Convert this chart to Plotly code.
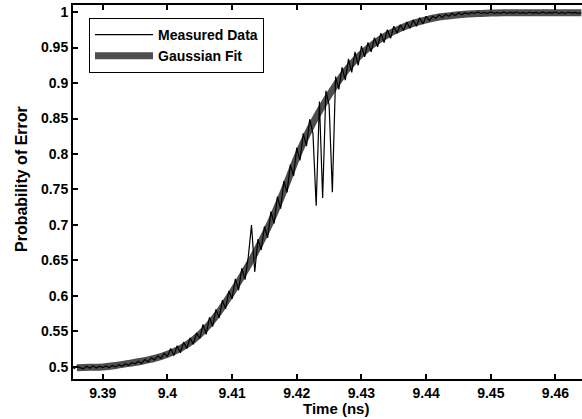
import numpy as np
import plotly.graph_objects as go

# Measured data: sampled every 0.5 ps starting at 9.3855 ns
t_start = 9.3855
t_step = 0.0005
measured = [
    .497, .501, .499, .4975, .501, .498, .5015, .4985, .501, .499,
    .5015, .499, .502, .500, .503, .501, .5045, .502, .506, .5045,
    .508, .505, .5105, .507, .513, .510, .5155, .512, .519, .515,
    .526, .516, .530, .520, .535, .526, .541, .532, .548, .540,
    .560, .546, .570, .557, .581, .569, .594, .582, .607, .596,
    .624, .608, .639, .623, .655, .700, .634, .680, .665, .698,
    .682, .719, .702, .740, .723, .762, .746, .785, .769, .809,
    .791, .829, .811, .849, .829, .727, .874, .738, .889, .869,
    .746, .909, .891, .922, .904, .934, .915, .944, .925, .952,
    .937, .957, .944, .964, .951, .970, .957, .975, .963, .980,
    .970, .982, .974, .986, .977, .989, .980, .992, .983, .994,
    .988, .994, .991, .996, .992, .997, .994, .998, .995, .999,
    .996, .999, .997, .9995, .998, 1.0, .998, .9995, .998, 1.0,
    .998, .9995, .998, 1.0, .998, .9995, .9985, 1.0, .998, .9995,
    .998, 1.0, .9985, .9995, .998, 1.0, .998, .9995, .9985, 1.0,
    .998, .9995, .998, 1.0, .9985, .9995, .998, .999,
]
t_measured = t_start + t_step * np.arange(len(measured))

# Gaussian fit
t_fit = [9.386, 9.388, 9.390, 9.392, 9.394, 9.396, 9.398, 9.400, 9.402, 9.404,
         9.406, 9.408, 9.410, 9.412, 9.414, 9.416, 9.418, 9.420, 9.422, 9.424,
         9.426, 9.428, 9.430, 9.432, 9.434, 9.436, 9.438, 9.440, 9.442, 9.444,
         9.446, 9.448, 9.450, 9.452, 9.454, 9.456, 9.458, 9.460, 9.462, 9.464]
p_fit = [0.499, 0.4995, 0.500, 0.502, 0.505, 0.508, 0.512, 0.518, 0.526, 0.538,
         0.555, 0.578, 0.605, 0.635, 0.668, 0.705, 0.748, 0.795, 0.835, 0.868,
         0.897, 0.922, 0.941, 0.956, 0.968, 0.977, 0.984, 0.989, 0.993, 0.995,
         0.997, 0.998, 0.9985, 0.999, 0.999, 0.999, 0.999, 0.999, 0.999, 0.999]

x_ticks = [9.39, 9.40, 9.41, 9.42, 9.43, 9.44, 9.45, 9.46]
x_ticklabels = ["9.39", "9.4", "9.41", "9.42", "9.43", "9.44", "9.45", "9.46"]
y_ticks = [0.5, 0.55, 0.6, 0.65, 0.7, 0.75, 0.8, 0.85, 0.9, 0.95, 1.0]
y_ticklabels = ["0.5", "0.55", "0.6", "0.65", "0.7", "0.75", "0.8", "0.85", "0.9", "0.95", "1"]

FONT = "Arial, Liberation Sans, Helvetica, sans-serif"
L, R, T, B = 73, 0, 5, 40
W, H = 582 - L - R, 419 - T - B

def px_x(px):
    return (px - L) / W

def px_y(py):
    return 1 - (py - T) / H

fig = go.Figure()
fig.add_trace(go.Scatter(x=t_fit, y=p_fit, mode="lines", name="Gaussian Fit",
                         line=dict(color="#4e4e4e", width=7, shape="spline")))
fig.add_trace(go.Scatter(x=t_measured, y=measured, mode="lines", name="Measured Data",
                         line=dict(color="black", width=1.2)))

axis_common = dict(showline=True, linecolor="black", linewidth=2,
                   ticks="inside", ticklen=5, tickwidth=1.5, tickcolor="black",
                   showgrid=False, zeroline=False, automargin=False,
                   tickfont=dict(family=FONT, size=14, color="black", weight="bold"))

fig.update_xaxes(range=[9.3854, 9.4641], tickvals=x_ticks, ticktext=x_ticklabels,
                 mirror="ticks", **axis_common)
fig.update_yaxes(range=[0.483, 1.0099], tickvals=y_ticks, ticktext=y_ticklabels,
                 mirror=False, **axis_common)

fig.update_layout(
    width=582, height=419,
    margin=dict(l=L, r=R, t=T, b=B, autoexpand=False),
    paper_bgcolor="white", plot_bgcolor="white",
    showlegend=True,
    legend=dict(x=px_x(89), y=px_y(18), xanchor="left", yanchor="top",
                bgcolor="white", bordercolor="black", borderwidth=1,
                traceorder="reversed",
                font=dict(family=FONT, size=14, color="black", weight="bold"),
                tracegroupgap=0, itemwidth=58),
    annotations=[
        dict(text="Time (ns)", x=px_x(336), y=px_y(408), xref="paper", yref="paper",
             xanchor="center", yanchor="middle", showarrow=False,
             font=dict(family=FONT, size=15, color="black", weight="bold")),
        dict(text="Probability of Error", x=px_x(21), y=px_y(179), showarrow=False,
             xref="paper", yref="paper", textangle=-90,
             xanchor="center", yanchor="middle",
             font=dict(family=FONT, size=16, color="black", weight="bold")),
    ],
)

fig.write_html("out.html", config={"displayModeBar": False},
               post_script="document.body.style.margin='0';document.body.style.padding='0';")
